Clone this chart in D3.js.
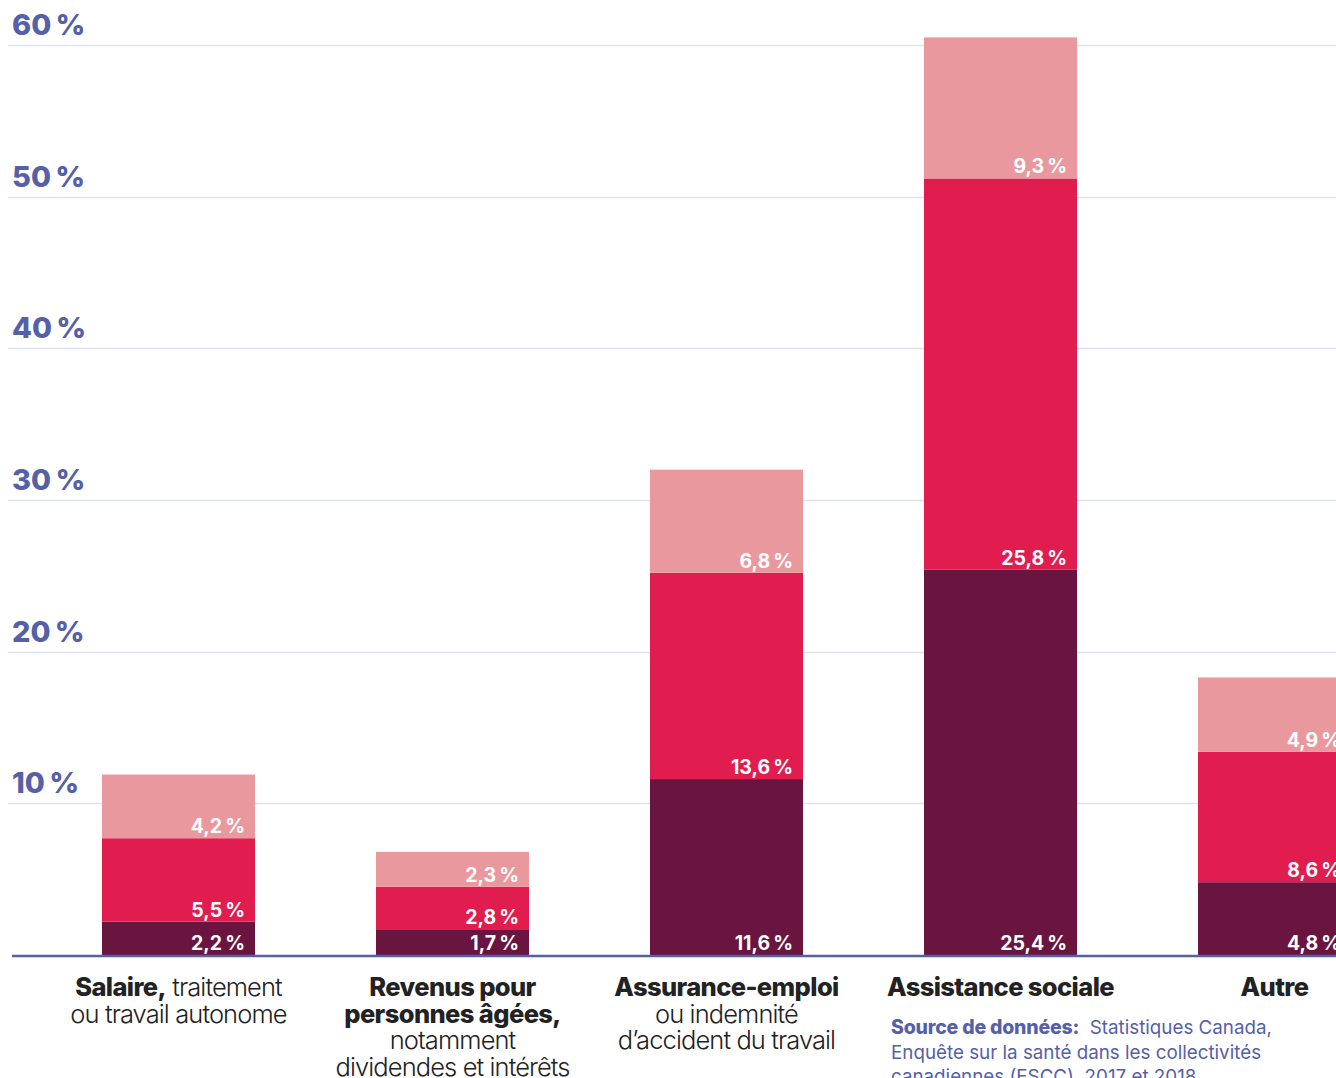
<!DOCTYPE html>
<html><head><meta charset="utf-8">
<script src="https://cdn.jsdelivr.net/npm/d3@7"></script>
<style>
html,body{margin:0;padding:0;background:#fff;overflow:hidden;}
svg{display:block;font-family:Inter,"Liberation Sans",sans-serif;}
</style></head>
<body>
<svg id="chart" width="1336" height="1078"></svg>
<script>
const categories = ["Salaire", "Revenus", "Assurance-emploi", "Assistance sociale", "Autre"];
const seriesKeys = ["dark", "mid", "light"];
const seriesDark  = [2.2, 1.7, 11.6, 25.4, 4.8];
const seriesMid   = [5.5, 2.8, 13.6, 25.8, 8.6];
const seriesLight = [4.2, 2.3, 6.8, 9.3, 4.9];
const yTicks = [10, 20, 30, 40, 50, 60];
const categoryLabels = [
  [[["Salaire,", true], [" traitement", false]], [["ou travail autonome", false]]],
  [[["Revenus pour", true]], [["personnes âgées,", true]], [["notamment", false]], [["dividendes et intérêts", false]]],
  [[["Assurance-emploi", true]], [["ou indemnité", false]], [["d’accident du travail", false]]],
  [[["Assistance sociale", true]]],
  [[["Autre", true]]]
];
const sourceLines = [
  [["Source de données:", true], ["  Statistiques Canada,", false]],
  [["Enquête sur la santé dans les collectivités", false]],
  [["canadiennes (ESCC), 2017 et 2018.", false]]
];

const colors = {dark: "#6a1540", mid: "#e11d4f", light: "#e9999d"};
const axisBlue = "#5560a8";

const rows = categories.map((c, i) => ({cat: c, dark: seriesDark[i], mid: seriesMid[i], light: seriesLight[i]}));
const stacked = d3.stack().keys(seriesKeys)(rows);

const svg = d3.select("#chart");
const baseY = 955;
const y = d3.scaleLinear().domain([0, 60]).range([baseY, 45]);
const x = d3.scaleBand().domain(categories).range([102, 1351]).paddingInner(121/274).paddingOuter(0);

const fmt = v => String(v).replace(".", ",") + "\u202f%";

// gridlines
svg.append("g").selectAll("line").data(yTicks).join("line")
  .attr("x1", 8).attr("x2", 1336)
  .attr("y1", d => Math.round(y(d)) + 0.5).attr("y2", d => Math.round(y(d)) + 0.5)
  .attr("stroke", "#dfe2f3").attr("stroke-width", 1.5);

// y labels
svg.append("g").selectAll("text").data(yTicks).join("text")
  .attr("x", 12).attr("y", d => y(d) - 10)
  .attr("fill", axisBlue).attr("font-weight", 800).attr("font-size", 29)
  .attr("letter-spacing", "-1")
  .text(d => d + "\u202f%");

// bars
const layers = svg.append("g").selectAll("g").data(stacked).join("g")
  .attr("fill", d => colors[d.key]);
layers.selectAll("rect").data(d => d).join("rect")
  .attr("x", d => x(d.data.cat))
  .attr("width", x.bandwidth())
  .attr("y", d => y(d[1]))
  .attr("height", d => y(d[0]) - y(d[1]));

// value labels
const lbl = svg.append("g");
stacked.forEach(layer => {
  lbl.selectAll(null).data(layer).join("text")
    .attr("x", d => x(d.data.cat) + x.bandwidth() - 10)
    .attr("y", d => y(d[0]) - 5)
    .attr("text-anchor", "end")
    .attr("fill", "#fff").attr("font-weight", 700).attr("font-size", 19.5)
    .attr("letter-spacing", "-0.3")
    .text(d => fmt(d.data[layer.key]));
});

// baseline
svg.append("line").attr("x1", 12).attr("x2", 1336)
  .attr("y1", baseY + 1).attr("y2", baseY + 1)
  .attr("stroke", axisBlue).attr("stroke-width", 2.5);

// category labels
const cg = svg.append("g");
categoryLabels.forEach((lines, i) => {
  const cx = x(categories[i]) + x.bandwidth() / 2;
  const t = cg.append("text").attr("text-anchor", "middle").attr("fill", "#222")
    .attr("font-size", 25.5);
  lines.forEach((line, li) => {
    line.forEach((part, pi) => {
      const ts = t.append("tspan").attr("font-weight", part[1] ? 800 : 300)
        .attr("letter-spacing", part[1] ? "-0.6" : "-0.9").text(part[0]);
      if (pi === 0) ts.attr("x", cx).attr("y", 996 + li * 26.5);
    });
  });
});

// source
const st = svg.append("text").attr("fill", axisBlue);
sourceLines.forEach((line, li) => {
  line.forEach((part, pi) => {
    const ts = st.append("tspan").attr("font-weight", part[1] ? 800 : 400)
      .attr("font-size", part[1] ? 19.5 : 18.8)
      .attr("letter-spacing", part[1] ? "-0.2" : "0")
      .attr("xml:space", "preserve").text(part[0]);
    if (pi === 0) ts.attr("x", 891).attr("y", 1034 + li * 24.5);
  });
});
</script>
</body></html>
